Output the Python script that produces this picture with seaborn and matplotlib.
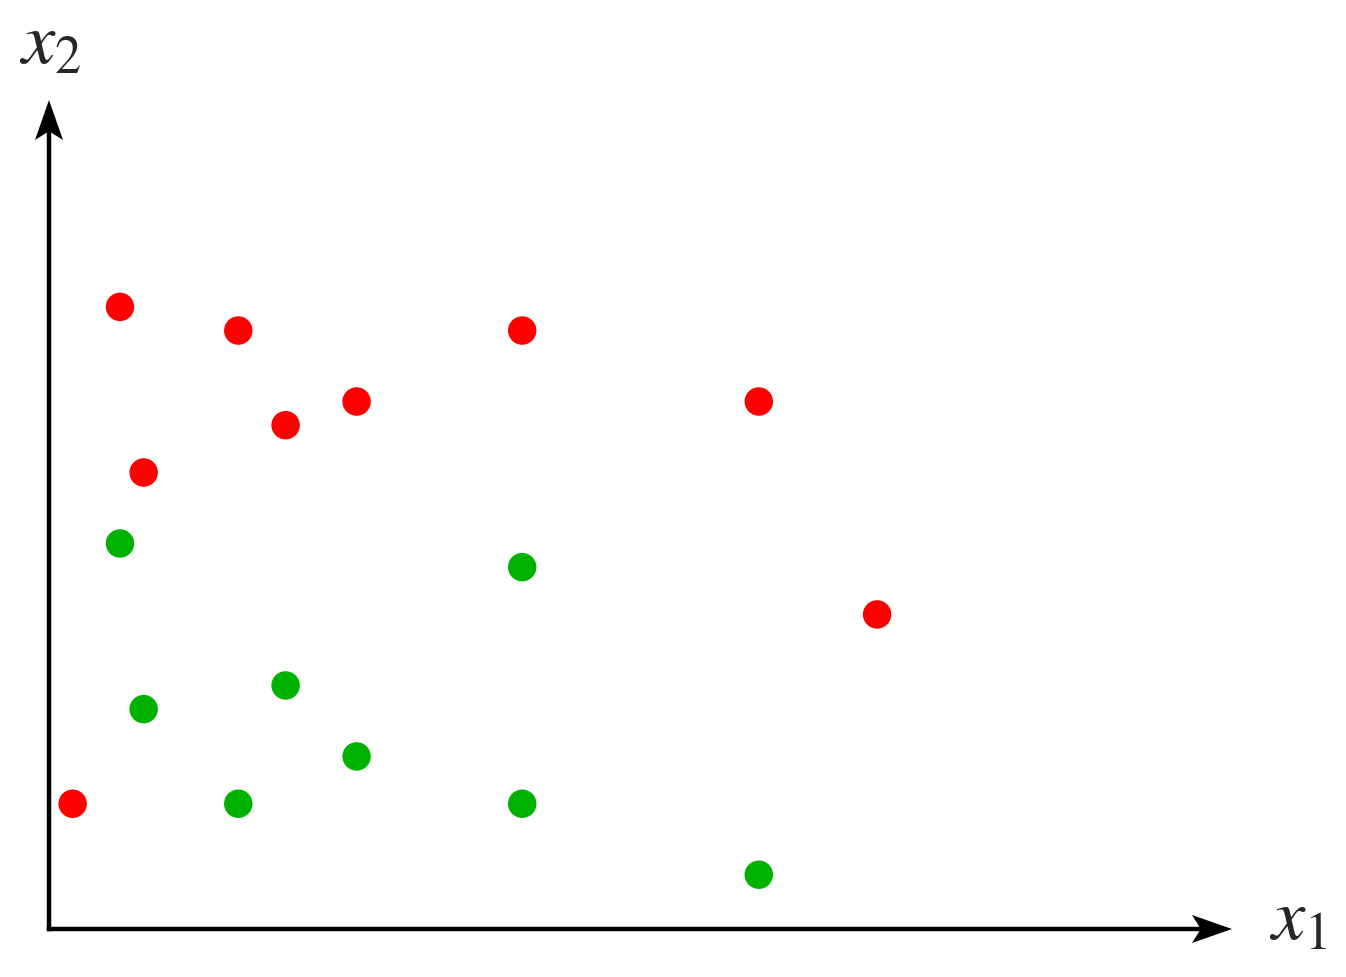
import matplotlib
matplotlib.use("Agg")
import matplotlib.pyplot as plt
import seaborn as sns
import pandas as pd
from matplotlib.patches import Polygon

sns.set_theme(style="white")
plt.rcParams['mathtext.fontset'] = 'stix'

# data (x1, x2) per class
red_x1 = [3, 8, 20, 13, 30, 10, 4, 35, 1]
red_x2 = [26.4, 25.4, 25.4, 22.4, 22.4, 21.4, 19.4, 13.4, 5.4]
green_x1 = [3, 20, 10, 4, 13, 8, 20, 30]
green_x2 = [16.4, 15.4, 10.4, 9.4, 7.4, 5.4, 5.4, 2.4]

df = pd.DataFrame({
    "x1": red_x1 + green_x1,
    "x2": red_x2 + green_x2,
    "cls": ["red"] * len(red_x1) + ["green"] * len(green_x1),
})

fig = plt.figure(figsize=(13.46, 9.78), dpi=100)
ax = fig.add_axes([0, 0, 1, 1])
u = 23.66
oy = 932.5
ax.set_xlim(-49 / u, (1346 - 49) / u)
ax.set_ylim(-(978 - oy) / u, oy / u)
ax.axis("off")

sns.scatterplot(data=df, x="x1", y="x2", hue="cls",
                palette={"red": "#ff0000", "green": "#00b200"},
                s=420, linewidth=0, legend=False, ax=ax, zorder=3)

y0 = (oy - 930) / u
x_end = (1232 - 49) / u
y_end = (oy - 101) / u
lw = 3.2
ax.plot([0, x_end - 0.6], [y0, y0], color="black", lw=lw, solid_capstyle="projecting", zorder=2)
ax.plot([0, 0], [y0, y_end - 0.6], color="black", lw=lw, solid_capstyle="projecting", zorder=2)

L = 40 / u
W = 14 / u
ax.add_patch(Polygon([[x_end, y0], [x_end - L, y0 + W], [x_end - 0.78 * L, y0], [x_end - L, y0 - W]],
                     closed=True, color="black", lw=0, zorder=2))
ax.add_patch(Polygon([[0, y_end], [W, y_end - L], [0, y_end - 0.78 * L], [-W, y_end - L]],
                     closed=True, color="black", lw=0, zorder=2))

ax.text((1298 - 49) / u, (oy - 920) / u, r"$x_1$", fontsize=54, ha="center", va="center")
ax.text((50 - 49) / u, (oy - 44) / u, r"$x_2$", fontsize=54, ha="center", va="center")

fig.savefig("out.png", dpi=100)
